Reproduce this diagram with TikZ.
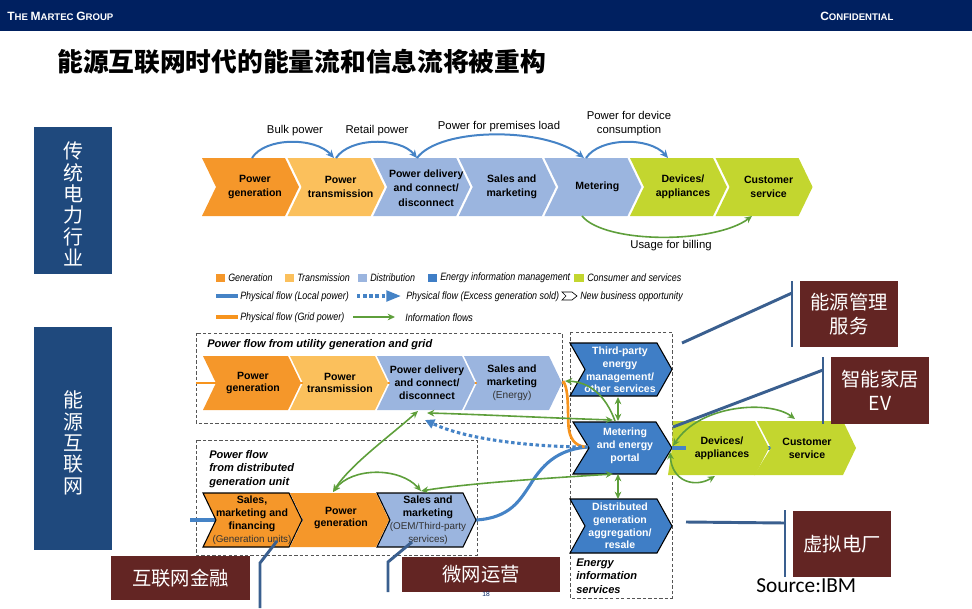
\documentclass[tikz,border=0pt]{standalone}
\usepackage{fontspec}
\setmainfont{Liberation Sans}
\newfontfamily\cjk{Noto Sans CJK SC}
\newfontfamily\narrowfont{Liberation Sans}[FakeStretch=0.84]
\newfontfamily\carlito{Carlito}
\usetikzlibrary{arrows.meta,fit}
\definecolor{navy}{HTML}{002060}
\definecolor{sidebox}{HTML}{1F497D}
\definecolor{cgen}{HTML}{F5972A}
\definecolor{ctrans}{HTML}{FBC05C}
\definecolor{cdist}{HTML}{9BB5DF}
\definecolor{cinfo}{HTML}{3F7EC6}
\definecolor{ccons}{HTML}{C3D62F}
\definecolor{flowblue}{HTML}{4583C6}
\definecolor{flowgreen}{HTML}{5E9F3B}
\definecolor{flowor}{HTML}{F7941D}
\definecolor{darkred}{HTML}{632523}
\definecolor{callout}{HTML}{3A5F8F}
\definecolor{dashgrey}{HTML}{555555}
\newcommand{\chev}[6]{\fill[#6] (#1,#2) -- ({#1+#3},#2) -- ({#1+#3+#5},{#2+#4/2}) -- ({#1+#3},{#2+#4}) -- (#1,{#2+#4}) -- ({#1+#5},{#2+#4/2}) -- cycle;}
\tikzset{
 ctext/.style={align=center, inner sep=0pt, font=\bfseries\fontsize{7.9}{10.7}\selectfont},
 ltext/.style={align=center, inner sep=0pt, font=\bfseries\fontsize{7.9}{9.6}\selectfont},
 wtext/.style={ltext, text=white},
 arclabel/.style={align=center, inner sep=0pt, font=\fontsize{8.5}{10.5}\selectfont},
 legtext/.style={anchor=west, inner sep=0pt, font=\narrowfont\itshape\fontsize{8}{9}\selectfont},
 boxtitle/.style={anchor=west, align=left, inner sep=0pt, font=\bfseries\itshape\fontsize{8.3}{10.1}\selectfont},
 dashbox/.style={draw=dashgrey, line width=0.7pt, dash pattern=on 2.5pt off 1.6pt},
 bluearc/.style={draw=flowblue, line width=1.5pt, -{Stealth[length=6pt,width=5.5pt]}},
 greenarr/.style={draw=flowgreen, line width=1.2pt, -{Stealth[length=5.5pt,width=5pt]}},
 greendbl/.style={draw=flowgreen, line width=1.2pt, {Stealth[length=5.5pt,width=5pt]}-{Stealth[length=5.5pt,width=5pt]}},
 dotblue/.style={draw=flowblue, line width=2.3pt, dash pattern=on 2.6pt off 2pt},
 calloutline/.style={draw=callout, line width=2.2pt},
 redbox/.style={fill=darkred, inner sep=0pt},
 redtext/.style={align=center, inner sep=0pt, text=white, font=\cjk\fontsize{14.5}{18}\selectfont},
 sidetext/.style={align=center, inner sep=0pt, text=white, font=\cjk\fontsize{15}{16}\selectfont},
}
\begin{document}
\begin{tikzpicture}[x=0.75pt,y=-0.75pt]
\useasboundingbox (0,0) rectangle (972,608);
% header
\fill[navy] (0,0) rectangle (972,31);
\node[anchor=west, inner sep=0pt, text=white, font=\bfseries] (hdrL) at (7,16)
 {\fontsize{9}{10}\selectfont T\fontsize{7.2}{10}\selectfont HE \fontsize{9}{10}\selectfont M\fontsize{7.2}{10}\selectfont ARTEC \fontsize{9}{10}\selectfont G\fontsize{7.2}{10}\selectfont ROUP};
\node[anchor=west, inner sep=0pt, text=white, font=\bfseries] (hdrR) at (820,16)
 {\fontsize{9}{10}\selectfont C\fontsize{7.2}{10}\selectfont ONFIDENTIAL};
% title
\node[anchor=west, inner sep=0pt, font=\cjk\bfseries\fontsize{19.3}{24}\selectfont] (title) at (57,62) {能源互联网时代的能量流和信息流将被重构};
% side boxes
\fill[sidebox] (34,127) rectangle (112,274);
\node[sidetext] (side1) at (73,204) {传\\统\\电\\力\\行\\业};
\fill[sidebox] (34,327) rectangle (112,550);
\node[sidetext] (side2) at (73,443) {能\\源\\互\\联\\网};

% ===== top row =====
\foreach \i/\c in {0/cgen,1/ctrans,2/cdist,3/cdist,4/cdist,5/ccons,6/ccons} {\chev{202+85.6*\i}{158}{83}{58}{14}{\c}}
\node[ctext] (tg) at (255,187) {Power\\generation};
\node[ctext] (tt) at (340.6,187) {Power\\transmission};
\node[ctext] (td) at (426.2,188) {Power delivery\\and connect/\\disconnect};
\node[ctext] (ts) at (511.8,187) {Sales and\\marketing};
\node[ctext] (tm) at (597.4,187) {Metering};
\node[ctext] (tdv) at (683,187) {Devices/\\appliances};
\node[ctext] (tc) at (768.6,187) {Customer\\service};
\coordinate (a0) at (252,158); \coordinate (a1) at (334,158); \coordinate (a1s) at (336,158);
\coordinate (a2) at (417,158); \coordinate (a3) at (584,158); \coordinate (a3s) at (586,158);
\coordinate (a4) at (668,158);
\draw[bluearc] (a0) .. controls (265,137) and (315,137) .. (a1);
\draw[bluearc] (a1s) .. controls (350,137) and (400,137) .. (a2);
\draw[bluearc] (a2) .. controls (440,127) and (545,127) .. (a3);
\draw[bluearc] (a3s) .. controls (600,137) and (650,137) .. (a4);
\node[arclabel] (lb1) at (295,131) {Bulk power};
\node[arclabel] (lb2) at (377,131) {Retail power};
\node[arclabel] (lb3) at (499,127) {Power for premises load};
\node[arclabel] (lb4) at (629,124) {Power for device\\consumption};
\coordinate (b0) at (582,216); \coordinate (b1) at (752,216);
\draw[greenarr] (b0) .. controls (605,244) and (715,244) .. (b1);
\node[arclabel] (lb5) at (671,246) {Usage for billing};

% ===== legend =====
\fill[cgen] (216,274) rectangle (225,282);   \node[legtext] (lg1) at (228,278) {Generation};
\fill[ctrans] (285,274) rectangle (294,282); \node[legtext] (lg2) at (297,278) {Transmission};
\fill[cdist] (358,274) rectangle (367,282);  \node[legtext] (lg3) at (370,278) {Distribution};
\fill[cinfo] (428,274) rectangle (437,282);  \node[legtext] (lg4) at (440,278) {Energy information management};
\fill[ccons] (574,274) rectangle (584,282);  \node[legtext] (lg5) at (587,278) {Consumer and services};
\coordinate (l1a) at (216,296); \coordinate (l1b) at (238,296);
\draw[flowblue, line width=2.3pt] (l1a) -- (l1b);
\node[legtext] (lg6) at (240,297) {Physical flow (Local power)};
\coordinate (l2a) at (357,296); \coordinate (l2b) at (401,296);
\draw[dotblue, -{Triangle[length=11pt,width=8pt]}] (l2a) -- (l2b);
\node[legtext] (lg7) at (406,297) {Physical flow (Excess generation sold)};
\draw[black, line width=0.5pt] (562,292) -- (572,292) -- (577,296) -- (572,300) -- (562,300) -- (566,296) -- cycle;
\node[legtext] (lg8) at (580,297) {New business opportunity};
\coordinate (l3a) at (216,317); \coordinate (l3b) at (238,317);
\draw[flowor, line width=2.3pt] (l3a) -- (l3b);
\node[legtext] (lg9) at (240,318) {Physical flow (Grid power)};
\coordinate (l4a) at (353,317); \coordinate (l4b) at (395,317);
\draw[greenarr] (l4a) -- (l4b);
\node[legtext] (lg10) at (405,318) {Information flows};

% ===== dashed boxes =====
\draw[dashbox] (196,333) rectangle (562,423);
\draw[dashbox] (196,440) rectangle (477,555);
\draw[dashbox] (570,332) rectangle (672,598);
\node[boxtitle] (bt1) at (207,345) {Power flow from utility generation and grid};
\node[boxtitle] (bt2) at (209,469) {Power flow\\from distributed\\generation unit};
\node[boxtitle] (bt3) at (576,576) {Energy\\information\\services};

% background flow lines
\draw[flowor, line width=2pt] (196,383) -- (563,383);
\draw[flowblue, line width=2.3pt] (190,520) -- (476,520);
\draw[flowblue, line width=2.3pt] (672,448) -- (772,448);
\coordinate (notch) at (588,447);
\draw[flowblue, line width=2.3pt] (476,520) .. controls (510,518) and (520,500) .. (530,485) .. controls (545,460) and (562,449) .. (notch);
\draw[flowor, line width=2pt] (563,381) .. controls (570,390) and (567,420) .. (569,430) .. controls (571,442) and (578,447) .. (notch);

% ===== utility row =====
\foreach \i/\c in {0/cgen,1/ctrans,2/cdist,3/cdist} {\chev{203+87*\i}{356}{85}{54}{13}{\c}}
\node[ltext] (ug) at (253,383) {Power\\generation};
\node[ltext] (ut) at (340,383) {Power\\transmission};
\node[ltext] (ud) at (427,383) {Power delivery\\and connect/\\disconnect};
\node[ltext] (us) at (512,383) {Sales and\\marketing\\{\mdseries\fontsize{7.6}{9.6}\selectfont\color{black!80}(Energy)}};

% ===== distributed row =====
\chev{290}{493}{86}{54}{13}{cgen}
\chev{203}{493}{86}{54}{13}{cgen,draw=black,line width=0.8pt}
\chev{377}{493}{86}{54}{13}{cdist,draw=black,line width=0.8pt}
\node[ltext] (dsm) at (252,520) {Sales,\\marketing and\\financing\\{\mdseries\fontsize{7.4}{9.6}\selectfont\color{black!80}(Generation units)}};
\node[ltext] (dpg) at (341,518) {Power\\generation};
\node[ltext] (dso) at (428,520) {Sales and\\marketing\\{\mdseries\fontsize{7.4}{9.6}\selectfont\color{black!80}(OEM/Third-party}\\{\mdseries\fontsize{7.4}{9.6}\selectfont\color{black!80}services)}};

% ===== energy information chevrons =====
\chev{570}{343}{87}{53}{15}{cinfo,draw=black,line width=0.8pt}
\chev{573}{422}{83}{52}{16}{cinfo,draw=black,line width=0.8pt}
\chev{570}{499}{87}{54}{15}{cinfo,draw=black,line width=0.8pt}
\node[wtext] (e1) at (620,370) {Third-party\\energy\\management/\\other services};
\node[wtext] (e2) at (625,446) {Metering\\and energy\\portal};
\node[wtext] (e3) at (620,526) {Distributed\\generation\\aggregation/\\resale};

% ===== consumer chevrons =====
\fill[ccons] (673,421) -- (755,421) -- (769,448) -- (755,475) -- (668,475) -- (672,448) -- cycle;
\fill[ccons] (757,421) -- (843,421) -- (856,448) -- (843,475) -- (754,475) -- (771,448) -- cycle;
\draw[flowblue, line width=2.3pt] (672,448) -- (686,448);
\node[ltext] (cd) at (722,448) {Devices/\\appliances};
\node[ltext] (cs) at (807,448) {Customer\\service};

% ===== flows =====
\coordinate (mt1) at (615,421); \coordinate (mt2) at (613,420);
\coordinate (mb) at (613,474); \coordinate (mtip1) at (673,446); \coordinate (mtip2) at (670,452);
\coordinate (se) at (565,381); \coordinate (pd1) at (427,413); \coordinate (pd2) at (425,420);
\coordinate (pdb) at (418,411); \coordinate (pgt) at (333,492); \coordinate (sot) at (421,491);
\draw[dotblue, -{Triangle[length=7pt,width=7pt]}] (notch) .. controls (540,447) and (470,441) .. (pd2);
\draw[greenarr] (mt1) .. controls (606,396) and (590,382) .. (se);
\draw[greendbl] (mt2) .. controls (550,418) and (470,414) .. (pd1);
\draw[greendbl] (pgt) .. controls (350,465) and (390,436) .. (pdb);
\draw[greendbl] (pgt) .. controls (352,467) and (400,467) .. (sot);
\draw[greendbl] (mb) .. controls (550,478) and (470,483) .. (sot);
\draw[greendbl] (618,397) -- (618,421);
\draw[greendbl] (618,474) -- (618,499);
\draw[greendbl] (mtip1) .. controls (700,404) and (770,400) .. (795,419);
\draw[greendbl] (mtip2) .. controls (672,482) and (695,488) .. (715,476);

% ===== callouts =====
\node[redbox, fit={(800,281) (898,347)}] (r1) {};
\node[redtext] (r1t) at (r1.center) {能源管理\\服务};
\draw[calloutline] (792,281) -- (792,347);
\draw[calloutline] (792,293) -- (682,343);
\node[redbox, fit={(831,357) (929,424)}] (r2) {};
\node[redtext] (r2t) at (r2.center) {智能家居\\EV};
\draw[calloutline] (823,357) -- (823,424);
\draw[calloutline] (823,370) -- (673,427);
\node[redbox, fit={(793,511) (891,577)}] (r3) {};
\node[redtext] (r3t) at (r3.center) {虚拟电厂};
\draw[calloutline] (785,510) -- (785,577);
\draw[calloutline] (686,522) -- (785,523);
\node[redbox, fit={(111,556) (250,600)}] (r4) {};
\node[redtext] (r4t) at (r4.center) {互联网金融};
\draw[calloutline] (277,541) -- (260,563) -- (260,608);
\node[redbox, fit={(402,557) (560,592)}] (r5) {};
\node[redtext] (r5t) at (r5.center) {微网运营};
\draw[calloutline] (412,542) -- (388,562) -- (388,592);

% source & page number
\node[anchor=west, inner sep=0pt, font=\carlito\fontsize{16}{18}\selectfont] (src) at (756,586) {Source:IBM};
\node[inner sep=0pt, text=navy, font=\fontsize{5}{6}\selectfont] (pg) at (486,594) {18};
\end{tikzpicture}
\end{document}
